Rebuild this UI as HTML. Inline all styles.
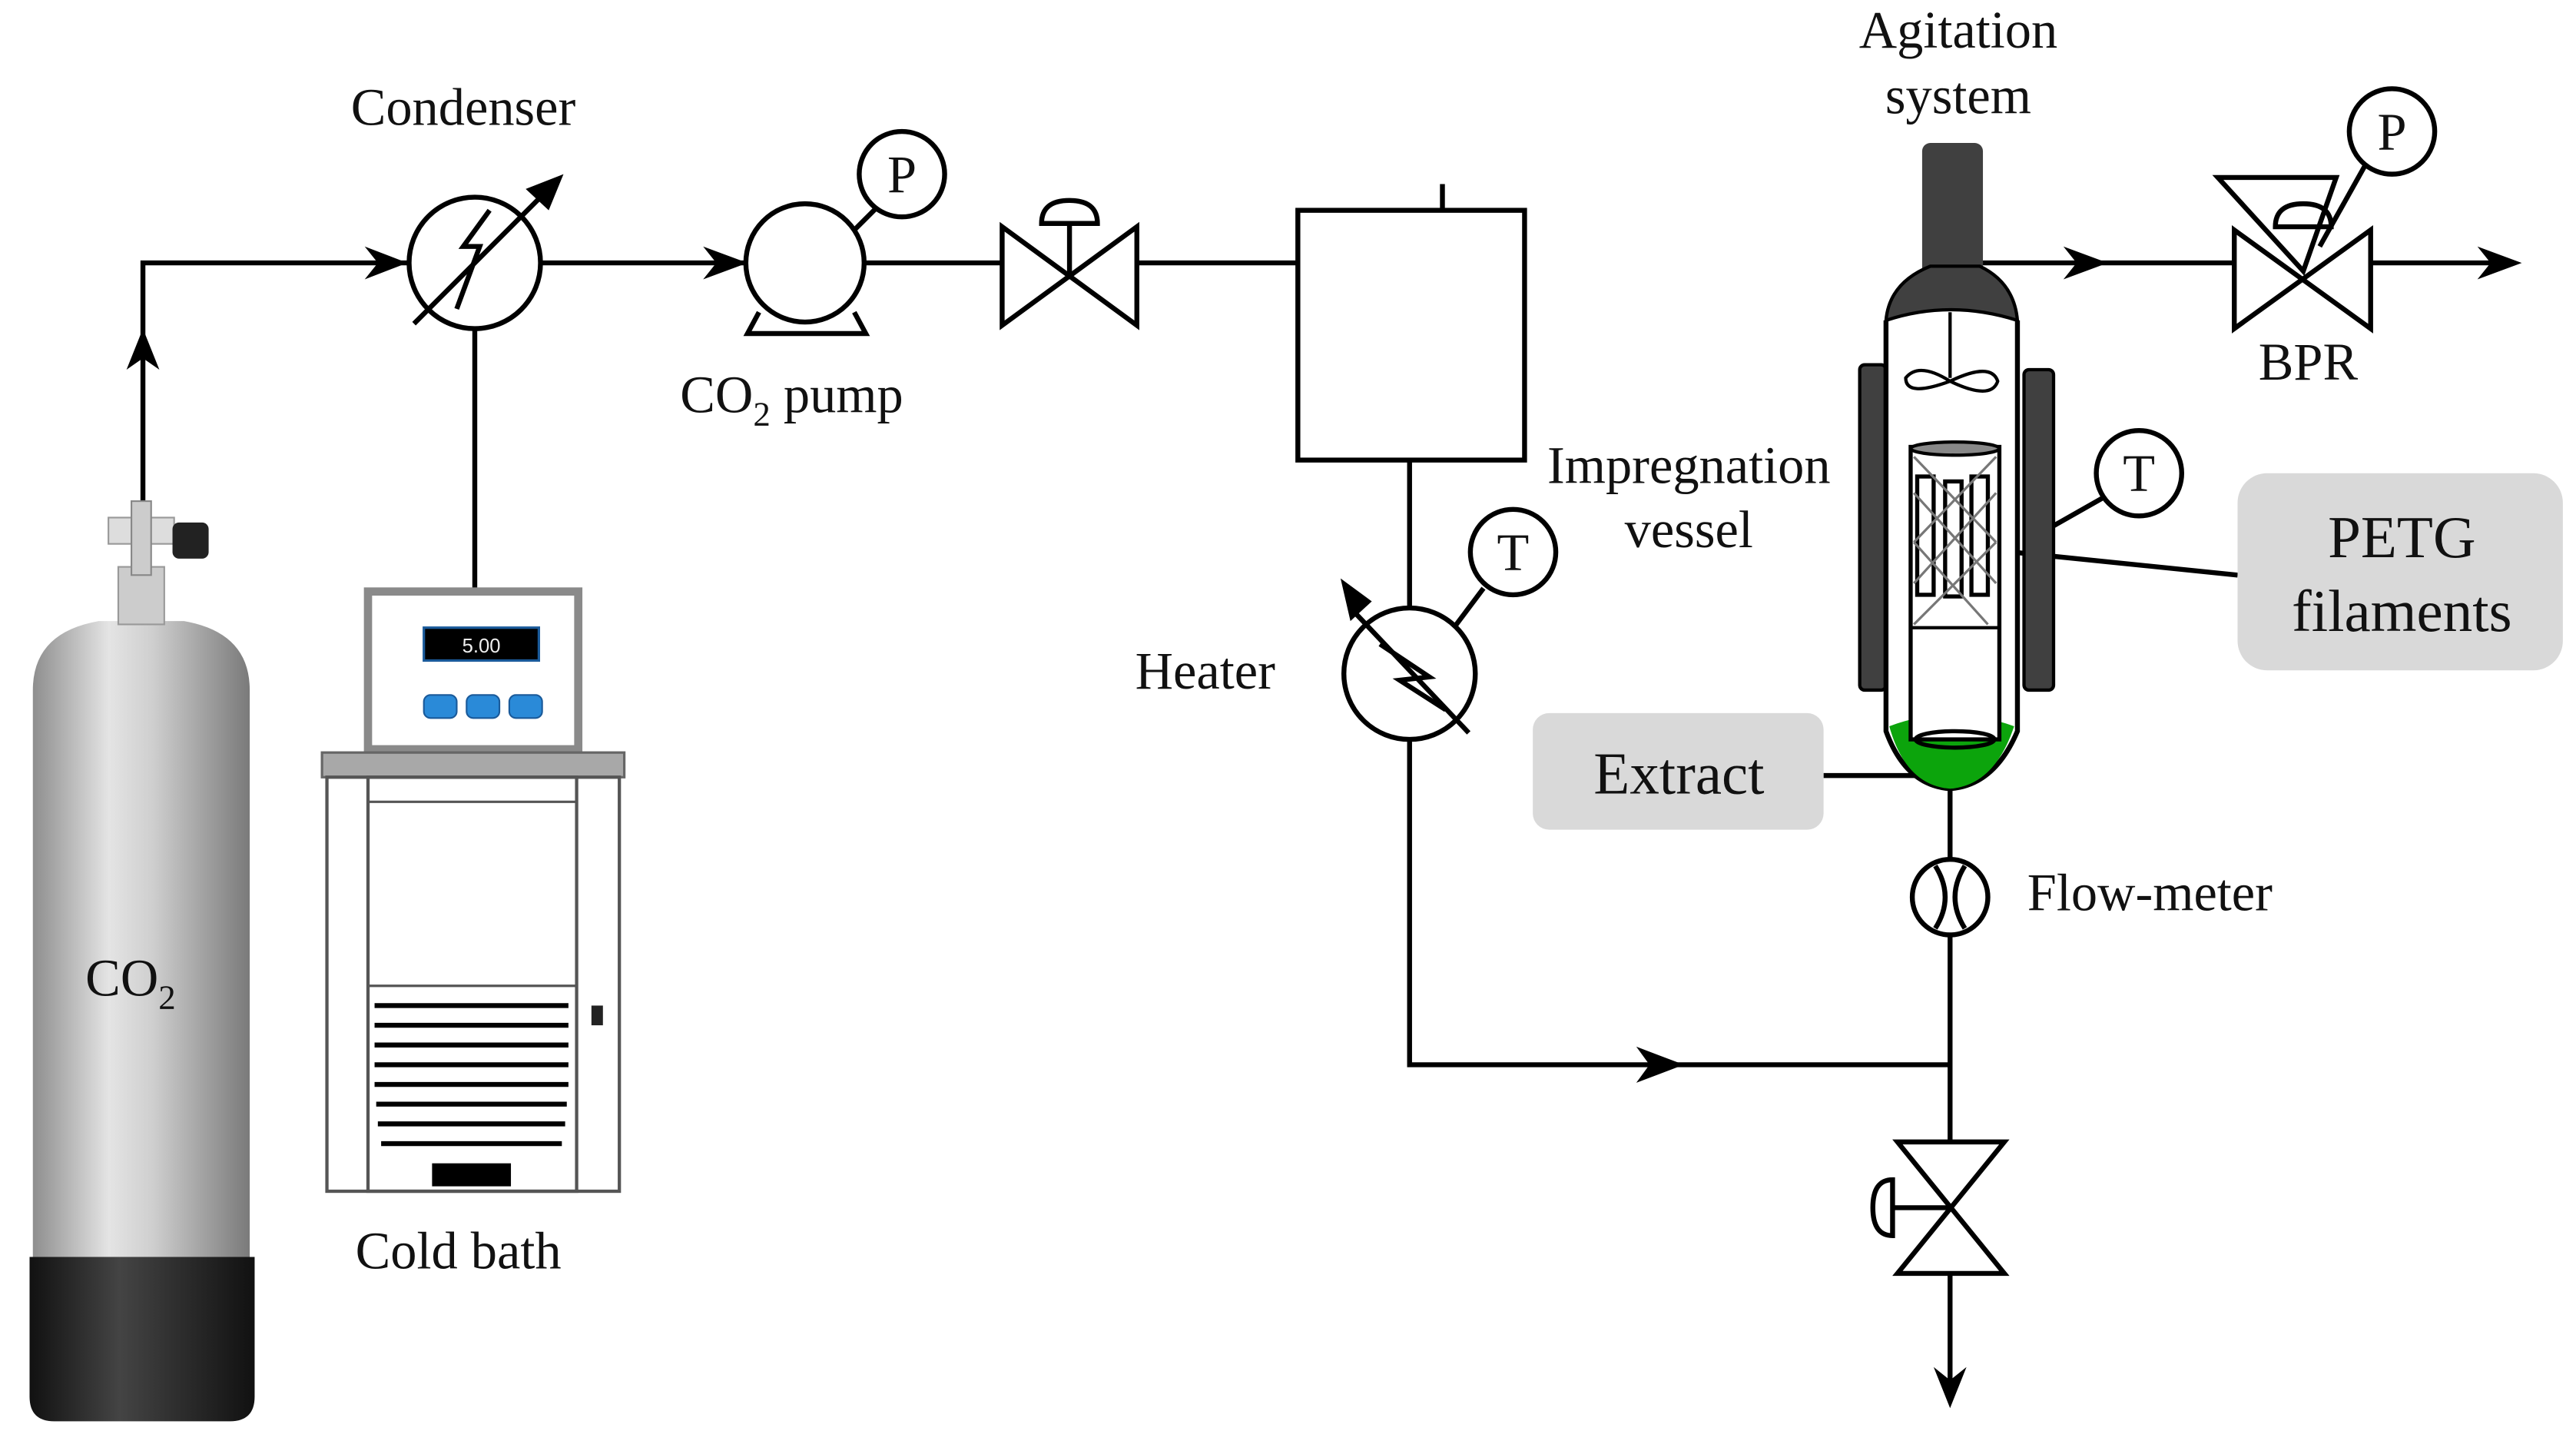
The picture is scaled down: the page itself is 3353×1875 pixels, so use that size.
<!DOCTYPE html>
<html><head><meta charset="utf-8"><style>
html,body{margin:0;padding:0;background:#fff;}
svg{display:block;}
text{font-family:"Liberation Serif",serif;fill:#111;}
</style></head><body>
<svg width="3353" height="1875" viewBox="0 0 1568 877" preserveAspectRatio="none" xmlns="http://www.w3.org/2000/svg">
<defs>
<linearGradient id="cyl" x1="0" x2="1" y1="0" y2="0">
<stop offset="0" stop-color="#8e8e8e"/><stop offset="0.35" stop-color="#e4e4e4"/><stop offset="0.55" stop-color="#cfcfcf"/><stop offset="1" stop-color="#7a7a7a"/>
</linearGradient>
<linearGradient id="base" x1="0" x2="1"><stop offset="0" stop-color="#111"/><stop offset="0.4" stop-color="#444"/><stop offset="1" stop-color="#111"/></linearGradient>
</defs>
<g stroke="#000" stroke-width="3" fill="none">
<polyline points="87,305 87,160 250,160"/>
<line x1="330" y1="160" x2="453" y2="160"/>
<line x1="527" y1="160" x2="610" y2="160"/>
<line x1="692" y1="160" x2="790" y2="160"/>
<line x1="289" y1="200" x2="289" y2="358"/>
<polyline points="858,280 858,370"/>
<polyline points="858,450 858,648 1187,648"/>
<line x1="1207" y1="160" x2="1360" y2="160"/>
<line x1="1443" y1="160" x2="1530" y2="160"/>
<line x1="1187" y1="480" x2="1187" y2="524"/>
<line x1="1187" y1="568" x2="1187" y2="695"/>
<line x1="1187" y1="775" x2="1187" y2="850"/>
<line x1="1110" y1="472" x2="1175" y2="472"/>
<line x1="1215" y1="335" x2="1362" y2="350"/>
<line x1="1250" y1="320" x2="1280" y2="303"/>
</g>
<g fill="#000">
<polygon points="87,200 77,225 87,218 97,225"/>
<polygon points="248,160 222,150 230,160 222,170"/>
<polygon points="455,160 428,150 436,160 428,170"/>
<polygon points="1025,648 996,637 1004,648 996,659"/>
<polygon points="1283,160 1256,150 1264,160 1256,170"/>
<polygon points="1535,160 1508,150 1516,160 1508,170"/>
<polygon points="1187,857 1177,832 1187,840 1197,832"/>
</g>
<g stroke="#000" stroke-width="3" fill="none">
<circle cx="289" cy="160" r="40"/>
<line x1="252" y1="197" x2="336" y2="113"/>
<polyline points="278,188 292,150 282,150 298,128"/>
</g>
<polygon points="343,106 320,115 334,128" fill="#000"/>
<g stroke="#000" stroke-width="3" fill="#fff">
<circle cx="490" cy="160" r="36"/>
<polyline points="462,190 455,203 527,203 520,190" fill="none"/>
<line x1="520" y1="140" x2="535" y2="125"/>
<circle cx="549" cy="106" r="26"/>
</g>
<g stroke="#000" stroke-width="3" fill="#fff">
<polygon points="610,138 692,198 692,138 610,198"/>
<line x1="651" y1="168" x2="651" y2="135"/>
<path d="M634,136 Q634,122 651,122 Q668,122 668,136 Z" fill="#fff"/>
</g>
<rect x="790" y="128" width="138" height="152" fill="none" stroke="#000" stroke-width="3"/>
<line x1="878" y1="112" x2="878" y2="128" stroke="#000" stroke-width="3"/>
<g stroke="#000" stroke-width="3" fill="none">
<circle cx="858" cy="410" r="40"/>
<line x1="822" y1="370" x2="894" y2="446"/>
<polyline points="840,392 870,412 852,414 880,432"/>
<line x1="885" y1="382" x2="903" y2="358"/>
</g>
<polygon points="816,352 822,378 835,366" fill="#000"/>
<circle cx="921" cy="336" r="26" fill="#fff" stroke="#000" stroke-width="3"/>
<g stroke="#000" stroke-width="3" fill="#fff">
<polygon points="1360,140 1443,200 1443,140 1360,200"/>
<polygon points="1350,108 1422,108 1402,165" fill="none"/>
<path d="M1385,138 Q1385,124 1402,124 Q1419,124 1419,138 Z" fill="none"/>
<line x1="1412" y1="150" x2="1440" y2="100"/>
<circle cx="1456" cy="80" r="26"/>
</g>
<rect x="1132" y="222" width="16" height="198" rx="3" fill="#404040" stroke="#000" stroke-width="2"/>
<rect x="1232" y="225" width="18" height="195" rx="3" fill="#404040" stroke="#000" stroke-width="2"/>
<path d="M1148,195 L1148,445 Q1160,478 1187,480 Q1214,478 1228,445 L1228,195" fill="#fff" stroke="#000" stroke-width="3"/>
<path d="M1150,442 Q1187,428 1226,442 Q1214,478 1187,480 Q1160,478 1150,442 Z" fill="#0ca40c"/>
<rect x="1170" y="87" width="37" height="85" rx="5" fill="#404040"/>
<path d="M1148,195 Q1150,172 1175,162 L1205,162 Q1226,172 1228,195 Q1187,182 1148,195 Z" fill="#404040" stroke="#000" stroke-width="2"/>
<line x1="1187" y1="190" x2="1187" y2="230" stroke="#000" stroke-width="2"/>
<path d="M1187,232 Q1168,220 1160,230 Q1160,242 1187,232 Q1212,220 1216,232 Q1212,244 1187,232 Z" fill="#fff" stroke="#000" stroke-width="2"/>
<rect x="1163" y="272" width="54" height="178" fill="#fff" stroke="#000" stroke-width="2.5"/>
<ellipse cx="1190" cy="273" rx="27" ry="4" fill="#888" stroke="#000" stroke-width="2"/>
<ellipse cx="1190" cy="450" rx="24" ry="5" fill="none" stroke="#000" stroke-width="2.5"/>
<g fill="#fff" stroke="#000" stroke-width="2.5">
<rect x="1167" y="290" width="10" height="72"/><rect x="1184" y="293" width="10" height="70"/><rect x="1200" y="290" width="10" height="72"/>
</g>
<g stroke="#777" stroke-width="1.5" fill="none">
<path d="M1165,278 L1215,330 M1215,278 L1165,330 M1165,300 L1215,355 M1215,300 L1165,355 M1165,330 L1210,380 M1215,330 L1165,380"/>
</g>
<line x1="1163" y1="382" x2="1217" y2="382" stroke="#000" stroke-width="2"/>
<circle cx="1302" cy="288" r="26" fill="#fff" stroke="#000" stroke-width="3"/>
<g stroke="#000" stroke-width="3" fill="#fff">
<circle cx="1187" cy="546" r="23"/>
<path d="M1178,527 Q1190,546 1178,565 M1196,527 Q1184,546 1196,565" fill="none"/>
</g>
<g stroke="#000" stroke-width="3" fill="#fff">
<polygon points="1155,695 1220,695 1155,775 1220,775"/>
<line x1="1187" y1="735" x2="1150" y2="735"/>
<path d="M1152,718 Q1140,718 1140,735 Q1140,752 1152,752 Z"/>
</g>
<rect x="1362" y="288" width="198" height="120" rx="18" fill="#d9d9d9"/>
<rect x="933" y="434" width="177" height="71" rx="10" fill="#d9d9d9"/>
<path d="M20,420 Q20,385 60,378 L112,378 Q152,385 152,420 L152,775 L20,775 Z" fill="url(#cyl)"/>
<path d="M18,765 L155,765 L155,850 Q155,865 140,865 L33,865 Q18,865 18,850 Z" fill="url(#base)"/>
<rect x="72" y="345" width="28" height="35" fill="#ccc" stroke="#999"/>
<rect x="66" y="315" width="40" height="16" fill="#ddd" stroke="#999"/>
<rect x="80" y="305" width="12" height="45" fill="#ccc" stroke="#888"/>
<rect x="105" y="318" width="22" height="22" rx="4" fill="#222"/>
<rect x="224" y="360" width="128" height="96" fill="#fff" stroke="#8a8a8a" stroke-width="5"/>
<rect x="258" y="382" width="70" height="20" fill="#000" stroke="#1a5a9a" stroke-width="1.5"/>
<text x="293" y="397" font-size="12" text-anchor="middle" style="fill:#eee;font-family:'Liberation Sans',sans-serif">5.00</text>
<rect x="258" y="423" width="20" height="14" rx="4" fill="#2a8ad8" stroke="#1a5a9a"/>
<rect x="284" y="423" width="20" height="14" rx="4" fill="#2a8ad8" stroke="#1a5a9a"/>
<rect x="310" y="423" width="20" height="14" rx="4" fill="#2a8ad8" stroke="#1a5a9a"/>
<rect x="196" y="458" width="184" height="15" fill="#a8a8a8" stroke="#666" stroke-width="1.5"/>
<rect x="199" y="473" width="178" height="252" fill="#fff" stroke="#555" stroke-width="2"/>
<rect x="224" y="473" width="127" height="252" fill="none" stroke="#555" stroke-width="2"/>
<line x1="224" y1="488" x2="351" y2="488" stroke="#555" stroke-width="1.5"/>
<line x1="224" y1="600" x2="351" y2="600" stroke="#555" stroke-width="1.5"/>
<g stroke="#000" stroke-width="3">
<line x1="228" y1="612" x2="346" y2="612"/><line x1="228" y1="624" x2="346" y2="624"/><line x1="228" y1="636" x2="346" y2="636"/><line x1="228" y1="648" x2="346" y2="648"/><line x1="228" y1="660" x2="346" y2="660"/><line x1="229" y1="672" x2="345" y2="672"/><line x1="230" y1="684" x2="344" y2="684"/><line x1="232" y1="696" x2="342" y2="696"/>
</g>
<rect x="263" y="708" width="48" height="14" fill="#000"/>
<rect x="360" y="612" width="7" height="12" fill="#222"/>
<g font-size="32">
<text x="282" y="76" text-anchor="middle">Condenser</text>
<text x="414" y="251">CO<tspan font-size="21" dy="8">2</tspan><tspan dy="-8"> pump</tspan></text>
<text x="549" y="117" text-anchor="middle">P</text>
<text x="1456" y="91" text-anchor="middle">P</text>
<text x="921" y="347" text-anchor="middle">T</text>
<text x="1302" y="299" text-anchor="middle">T</text>
<text x="691" y="419">Heater</text>
<text x="1028" y="294" text-anchor="middle">Impregnation</text>
<text x="1028" y="333" text-anchor="middle">vessel</text>
<text x="1192" y="29" text-anchor="middle">Agitation</text>
<text x="1192" y="69" text-anchor="middle">system</text>
<text x="1405" y="231" text-anchor="middle">BPR</text>
<text x="1234" y="554">Flow-meter</text>
<text x="279" y="772" text-anchor="middle">Cold bath</text>
<text x="52" y="606">CO<tspan font-size="21" dy="8">2</tspan></text>
</g>
<g font-size="36">
<text x="1462" y="339" text-anchor="middle">PETG</text>
<text x="1462" y="384" text-anchor="middle">filaments</text>
<text x="1022" y="483" text-anchor="middle">Extract</text>
</g>
</svg>
</body></html>
